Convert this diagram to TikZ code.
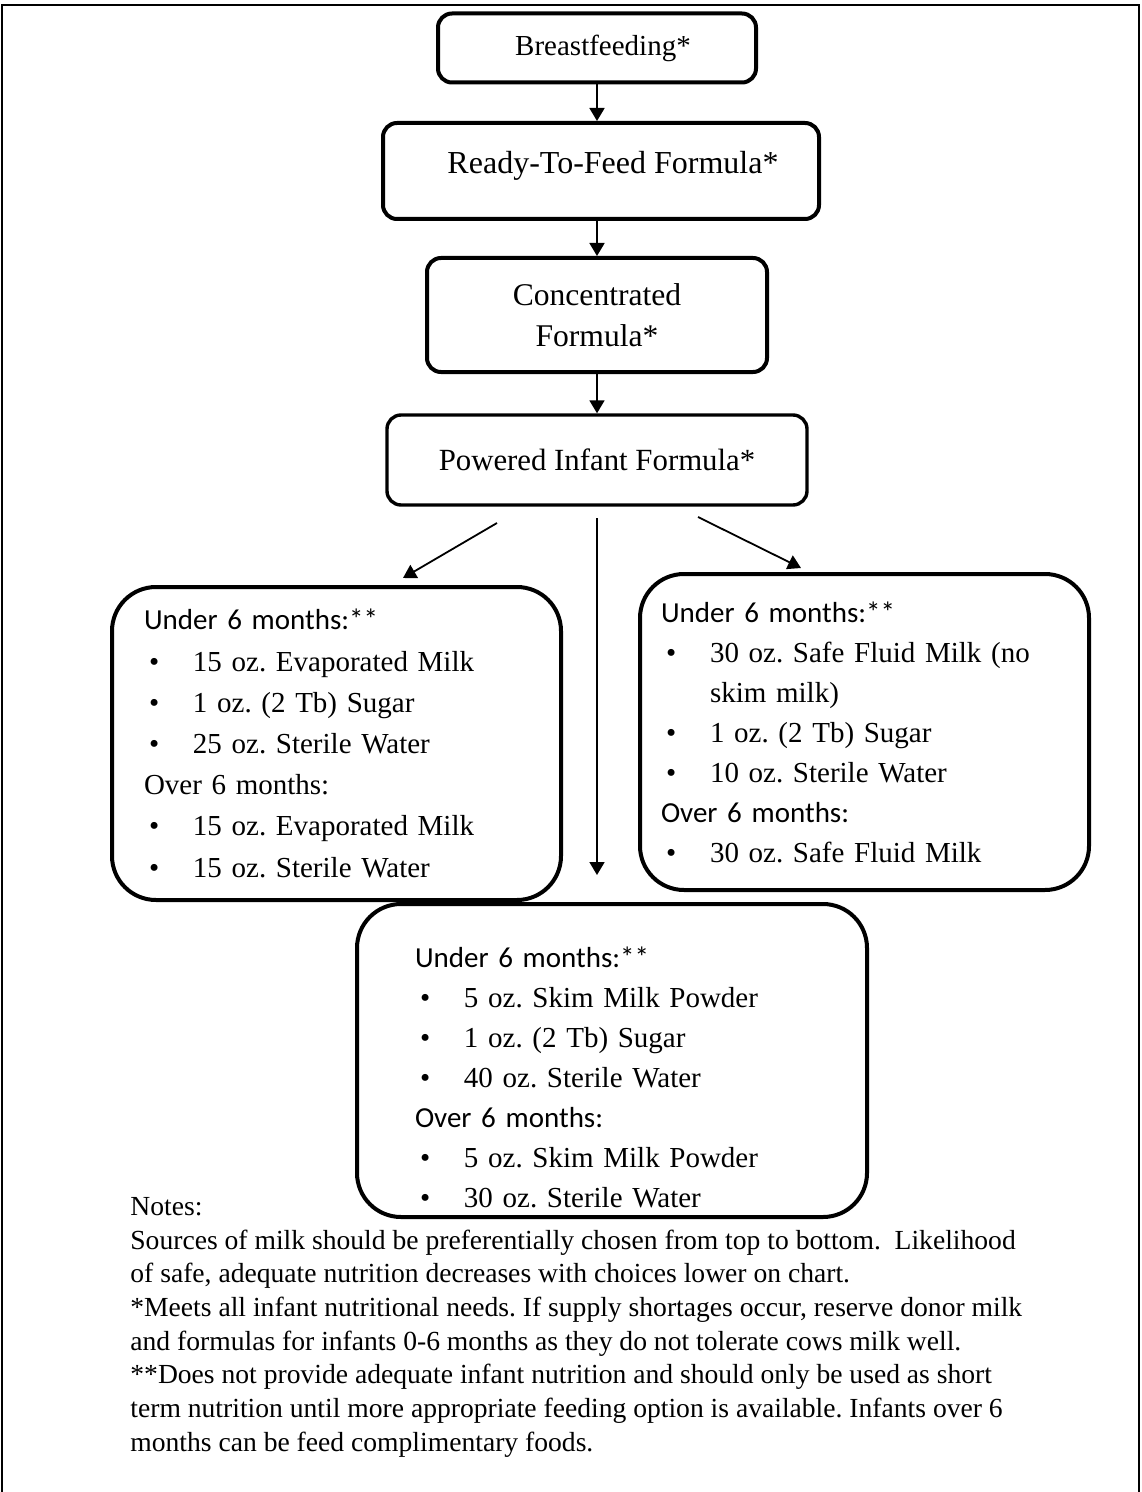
\documentclass[tikz,border=0pt]{standalone}
\usepackage{fontspec}
\setmainfont{Liberation Serif}
\newfontfamily\calibri{Carlito}
\usetikzlibrary{arrows.meta}
\usetikzlibrary{calc}
\frenchspacing

\newcommand{\bitem}[1]{\hspace*{2.5pt}\makebox[22pt][l]{\textbullet}#1}

\begin{document}
\begin{tikzpicture}[x=0.5pt,y=-0.5pt,
    topbox/.style={draw, line width=2pt, rounded corners=7pt, align=center, inner sep=0pt,
      font=\fontsize{15.8}{20.5}\selectfont},
    listbox/.style={draw, line width=2pt, rounded corners=22pt, anchor=north west, align=left,
      inner ysep=0pt, font=\fontsize{14.5}{20}\selectfont},
    flow/.style={-{Triangle[length=6.5pt,width=7.5pt]}, line width=0.9pt}]
      % page frame
      \useasboundingbox (0,0) rectangle (1141,1492);
      \draw[line width=0.7pt] (2,1492) -- (2,5) -- (1139,5) -- (1139,1492);

      % preferred sources, top to bottom
      \node[topbox, minimum width=159pt, minimum height=34.5pt, font=\fontsize{14.5}{17}\selectfont]
        (breast) at (597,48) {\hspace*{6pt}Breastfeeding*};
      \node[topbox, minimum width=218pt, minimum height=48pt, font=\fontsize{16}{20.5}\selectfont]
        (ready) at (601,171) {\hspace*{12pt}Ready-To-Feed Formula*\rule[-8.5pt]{0pt}{1pt}};
      \node[topbox, minimum width=170pt, minimum height=57pt] (conc) at (597,315) {Concentrated\\Formula*};
      \node[topbox, minimum width=210pt, minimum height=45pt, line width=1.7pt, font=\fontsize{15.4}{20}\selectfont]
        (powder) at (597,460) {Powered Infant Formula*};

      \draw[flow] (breast.south -| conc.north) -- (ready.north -| conc.north);
      \draw[flow] (ready.south -| conc.north) -- (conc);
      \draw[flow] (conc) -- (powder);

      % substitutes
      \coordinate (lstart) at (497,523);
      \coordinate (lend) at (403,578);
      \coordinate (mstart) at (597,518);
      \coordinate (mend) at (597,875);
      \coordinate (rstart) at (698,517);
      \coordinate (rend) at (801,568);
      \draw[flow] (lstart) -- (lend);
      \draw[flow] (mstart) -- (mend);
      \draw[flow] (rstart) -- (rend);

      \node[listbox, minimum width=224.5pt, minimum height=156.5pt, inner xsep=16pt, text width=192.5pt,
        font=\fontsize{14.5}{20.6}\selectfont] (evap) at (110,585) {%
        {\calibri Under 6 months:**}\\
        \bitem{15 oz. Evaporated Milk}\\
        \bitem{1 oz. (2 Tb) Sugar}\\
        \bitem{25 oz. Sterile Water}\\
        Over 6 months:\\
        \bitem{15 oz. Evaporated Milk}\\
        \bitem{15 oz. Sterile Water}};

      \node[listbox, minimum width=224.5pt, minimum height=158pt, inner xsep=10.5pt, text width=203.5pt]
        (fluid) at (638,572) {%
        {\calibri Under 6 months:**}\\
        \bitem{30 oz. Safe Fluid Milk (no}\\
        \hspace*{24.5pt}skim milk)\\
        \bitem{1 oz. (2 Tb) Sugar}\\
        \bitem{10 oz. Sterile Water}\\
        {\calibri Over 6 months:}\\
        \bitem{30 oz. Safe Fluid Milk}};

      \node[listbox, minimum width=255pt, minimum height=156.5pt, inner xsep=29pt, text width=197pt]
        (skim) at (355,902) {%
        \rule{0pt}{27pt}{\calibri Under 6 months:**}\\
        \bitem{5 oz. Skim Milk Powder}\\
        \bitem{1 oz. (2 Tb) Sugar}\\
        \bitem{40 oz. Sterile Water}\\
        {\calibri Over 6 months:}\\
        \bitem{5 oz. Skim Milk Powder}\\
        \bitem{30 oz. Sterile Water}};

      % notes
      \node[anchor=north west, inner sep=0pt, align=left, font=\fontsize{13.8}{16.85}\selectfont]
        (notes) at (130,1197) {%
        Notes:\\
        Sources of milk should be preferentially chosen from top to bottom.~ Likelihood\\
        of safe, adequate nutrition decreases with choices lower on chart.\\
        *Meets all infant nutritional needs. If supply shortages occur, reserve donor milk\\
        and formulas for infants 0-6 months as they do not tolerate cows milk well.\\
        **Does not provide adequate infant nutrition and should only be used as short\\
        term nutrition until more appropriate feeding option is available. Infants over 6\\
        months can be feed complimentary foods.};
    \end{tikzpicture}
\end{document}
